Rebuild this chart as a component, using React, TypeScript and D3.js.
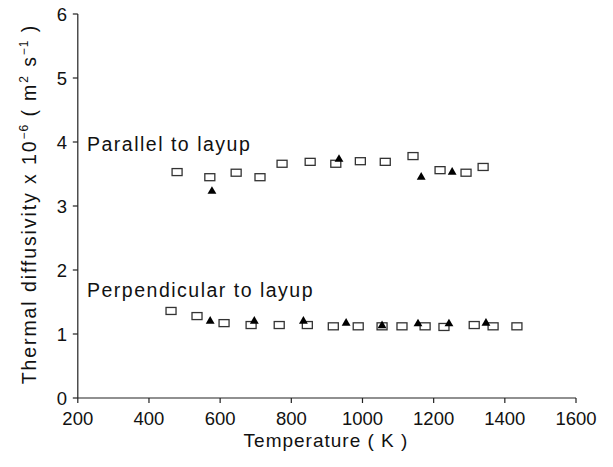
import React from "react";
import * as d3 from "d3";

// Thermal diffusivity measurements (temperature in K, value in 1e-6 m^2/s)
const parallelSquaresT = [479, 571, 645, 712, 774, 853, 925, 994, 1064, 1142, 1218, 1291, 1339];
const parallelSquaresV = [3.53, 3.45, 3.52, 3.45, 3.66, 3.69, 3.66, 3.70, 3.69, 3.78, 3.56, 3.52, 3.61];
const parallelTrianglesT = [577, 934, 1165, 1252];
const parallelTrianglesV = [3.23, 3.73, 3.45, 3.53];

const perpSquaresT = [462, 535, 611, 687, 766, 845, 918, 988, 1055, 1111, 1176, 1229, 1314, 1367, 1434];
const perpSquaresV = [1.36, 1.28, 1.17, 1.14, 1.14, 1.14, 1.12, 1.12, 1.12, 1.12, 1.12, 1.11, 1.14, 1.12, 1.12];
const perpTrianglesT = [572, 696, 834, 954, 1055, 1156, 1243, 1347];
const perpTrianglesV = [1.20, 1.20, 1.20, 1.17, 1.13, 1.16, 1.16, 1.17];

const xTicks = [200, 400, 600, 800, 1000, 1200, 1400, 1600];
const yTicks = [0, 1, 2, 3, 4, 5, 6];

const W = 613;
const H = 467;
const FONT = "'Liberation Sans', Arial, Helvetica, sans-serif";

export default function App() {
  const x = d3.scaleLinear().domain([200, 1600]).range([77.8, 576]);
  const y = d3.scaleLinear().domain([0, 6]).range([398, 14]);
  const tri = d3.symbol().type(d3.symbolTriangle).size(34)() as string;

  const squares = (ts: number[], vs: number[]) =>
    ts.map((t, i) => (
      <rect
        key={`s${t}-${i}`}
        x={x(t) - 5}
        y={y(vs[i]) - 3.5}
        width={10}
        height={7}
        fill="white"
        stroke="#333"
        strokeWidth={1.3}
      />
    ));
  const triangles = (ts: number[], vs: number[]) =>
    ts.map((t, i) => (
      <path key={`t${t}-${i}`} d={tri} transform={`translate(${x(t)},${y(vs[i])})`} fill="#000" />
    ));

  return (
    <svg
      width={W}
      height={H}
      style={{ position: "absolute", left: 0, top: 0, background: "#fff" }}
      fontFamily={FONT}
    >
      {/* axes */}
      <line x1={x(200)} x2={x(1600)} y1={y(0)} y2={y(0)} stroke="#222" strokeWidth={1.2} />
      <line x1={x(200)} x2={x(200)} y1={y(0)} y2={y(6)} stroke="#222" strokeWidth={1.2} />
      {xTicks.map((t) => (
        <g key={`xt${t}`}>
          <line x1={x(t)} x2={x(t)} y1={y(0)} y2={y(0) + 5} stroke="#222" strokeWidth={1.2} />
          <text x={x(t)} y={425} textAnchor="middle" fontSize={18.5} fill="#111">
            {t}
          </text>
        </g>
      ))}
      {yTicks.map((v) => (
        <g key={`yt${v}`}>
          <line x1={x(200) - 5} x2={x(200)} y1={y(v)} y2={y(v)} stroke="#222" strokeWidth={1.2} />
          <text x={67} y={y(v) + 6.5} textAnchor="end" fontSize={18.5} fill="#111">
            {v}
          </text>
        </g>
      ))}

      {/* axis titles */}
      <text x={326} y={447} textAnchor="middle" fontSize={19} letterSpacing={1} fill="#111">
        Temperature ( K )
      </text>
      <text
        transform="translate(36,204) rotate(-90)"
        textAnchor="middle"
        fontSize={19.5}
        letterSpacing={1.9}
        fill="#111"
      >
        Thermal diffusivity x 10
        <tspan dy={-8} fontSize={12} letterSpacing={1}>−6</tspan>
        <tspan dy={8}> ( m</tspan>
        <tspan dy={-8} fontSize={12}>2</tspan>
        <tspan dy={8}> s</tspan>
        <tspan dy={-8} fontSize={12} letterSpacing={1}>−1</tspan>
        <tspan dy={8}> )</tspan>
      </text>

      {/* series labels */}
      <text x={87} y={151} fontSize={19.5} letterSpacing={1.5} fill="#111">
        Parallel to layup
      </text>
      <text x={87} y={297} fontSize={19.5} letterSpacing={1.5} fill="#111">
        Perpendicular to layup
      </text>

      {/* data */}
      {squares(parallelSquaresT, parallelSquaresV)}
      {triangles(parallelTrianglesT, parallelTrianglesV)}
      {squares(perpSquaresT, perpSquaresV)}
      {triangles(perpTrianglesT, perpTrianglesV)}
    </svg>
  );
}
